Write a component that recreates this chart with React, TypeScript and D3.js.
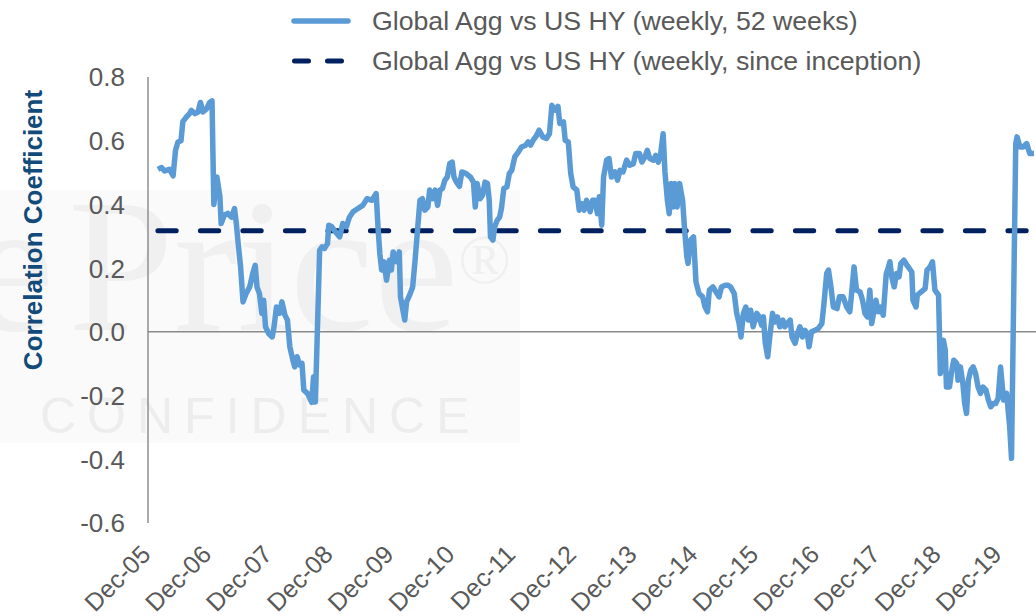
import React, { useEffect, useRef } from 'react';
import * as d3 from 'd3';

const weeks = [
  2006.08, 2006.14, 2006.19, 2006.27, 2006.33, 2006.37, 2006.41, 2006.46, 2006.49, 2006.55,
  2006.6, 2006.63, 2006.69, 2006.74, 2006.78, 2006.82, 2006.88, 2006.93, 2006.97, 2007.0,
  2007.05, 2007.1, 2007.12, 2007.17, 2007.23, 2007.29, 2007.34, 2007.37, 2007.4, 2007.44,
  2007.48, 2007.53, 2007.59, 2007.64, 2007.68, 2007.71, 2007.75, 2007.79, 2007.82, 2007.85,
  2007.9, 2007.96, 2007.99, 2008.03, 2008.08, 2008.12, 2008.17, 2008.21, 2008.25, 2008.3,
  2008.33, 2008.37, 2008.41, 2008.45, 2008.48, 2008.54, 2008.58, 2008.61, 2008.64, 2008.67,
  2008.74, 2008.78, 2008.82, 2008.87, 2008.89, 2008.94, 2009.0, 2009.07, 2009.12, 2009.18,
  2009.23, 2009.29, 2009.37, 2009.45, 2009.52, 2009.6, 2009.67, 2009.7, 2009.73, 2009.76,
  2009.8, 2009.84, 2009.89, 2009.92, 2009.95, 2010.01, 2010.05, 2010.07, 2010.11, 2010.14,
  2010.17, 2010.23, 2010.27, 2010.31, 2010.35, 2010.39, 2010.43, 2010.47, 2010.52, 2010.55,
  2010.6, 2010.64, 2010.68, 2010.72, 2010.76, 2010.8, 2010.84, 2010.88, 2010.92, 2010.95,
  2010.99, 2011.04, 2011.08, 2011.15, 2011.22, 2011.27, 2011.3, 2011.33, 2011.38, 2011.42,
  2011.46, 2011.5, 2011.53, 2011.55, 2011.59, 2011.62, 2011.66, 2011.7, 2011.73, 2011.77,
  2011.82, 2011.86, 2011.9, 2011.95, 2012.01, 2012.06, 2012.13, 2012.17, 2012.21, 2012.25,
  2012.31, 2012.35, 2012.41, 2012.47, 2012.52, 2012.56, 2012.61, 2012.66, 2012.69, 2012.75,
  2012.78, 2012.83, 2012.87, 2012.91, 2012.97, 2013.01, 2013.05, 2013.09, 2013.13, 2013.19,
  2013.23, 2013.27, 2013.31, 2013.34, 2013.38, 2013.41, 2013.46, 2013.5, 2013.54, 2013.6,
  2013.64, 2013.68, 2013.73, 2013.79, 2013.84, 2013.9, 2013.94, 2014.0, 2014.04, 2014.09,
  2014.13, 2014.17, 2014.23, 2014.27, 2014.31, 2014.35, 2014.39, 2014.42, 2014.46, 2014.49,
  2014.52, 2014.56, 2014.58, 2014.62, 2014.66, 2014.71, 2014.74, 2014.78, 2014.8, 2014.84,
  2014.89, 2014.93, 2014.98, 2015.04, 2015.08, 2015.12, 2015.15, 2015.21, 2015.26, 2015.31,
  2015.35, 2015.41, 2015.46, 2015.5, 2015.56, 2015.6, 2015.64, 2015.67, 2015.71, 2015.75,
  2015.79, 2015.83, 2015.87, 2015.93, 2015.97, 2016.01, 2016.04, 2016.07, 2016.11, 2016.15,
  2016.19, 2016.23, 2016.27, 2016.31, 2016.36, 2016.39, 2016.43, 2016.48, 2016.51, 2016.56,
  2016.6, 2016.64, 2016.68, 2016.72, 2016.76, 2016.79, 2016.83, 2016.89, 2016.94, 2017.0,
  2017.03, 2017.08, 2017.11, 2017.15, 2017.19, 2017.25, 2017.29, 2017.35, 2017.41, 2017.46,
  2017.49, 2017.53, 2017.57, 2017.63, 2017.67, 2017.71, 2017.75, 2017.79, 2017.82, 2017.86,
  2017.89, 2017.93, 2017.97, 2018.01, 2018.06, 2018.09, 2018.12, 2018.15, 2018.19, 2018.23,
  2018.27, 2018.3, 2018.35, 2018.4, 2018.44, 2018.48, 2018.5, 2018.55, 2018.57, 2018.63,
  2018.7, 2018.73, 2018.78, 2018.82, 2018.86, 2018.92, 2018.95, 2019.0, 2019.03, 2019.05,
  2019.1, 2019.13, 2019.17, 2019.22, 2019.24, 2019.28, 2019.32, 2019.35, 2019.38, 2019.41,
  2019.45, 2019.49, 2019.53, 2019.57, 2019.61, 2019.65, 2019.7, 2019.74, 2019.78, 2019.82,
  2019.86, 2019.9, 2019.94, 2019.97, 2019.99, 2020.04, 2020.07, 2020.09, 2020.12, 2020.19,
  2020.21, 2020.26, 2020.31, 2020.37, 2020.42, 2020.49,
];

// Global Agg vs US HY, rolling 52-week correlation
const corr52w = [
  0.51, 0.516, 0.505, 0.51, 0.49, 0.57, 0.596, 0.6, 0.66, 0.675,
  0.685, 0.695, 0.685, 0.69, 0.72, 0.69, 0.7, 0.72, 0.725, 0.4,
  0.486, 0.424, 0.34, 0.366, 0.372, 0.36, 0.387, 0.34, 0.277, 0.204,
  0.094, 0.12, 0.141, 0.183, 0.209, 0.141, 0.12, 0.058, 0.099, 0.016,
  -0.005, -0.016, 0.016, 0.078, 0.058, 0.094, 0.052, 0.037, -0.047, -0.089,
  -0.11, -0.078, -0.104, -0.099, -0.183, -0.193, -0.209, -0.221, -0.141, -0.22,
  0.256, 0.267, 0.262, 0.277, 0.335, 0.33, 0.314, 0.298, 0.34, 0.33,
  0.36, 0.377, 0.387, 0.397, 0.418, 0.413, 0.434, 0.33, 0.246, 0.194,
  0.22, 0.162, 0.225, 0.194, 0.251, 0.22, 0.251, 0.11, 0.068, 0.037,
  0.094, 0.12, 0.141, 0.225, 0.319, 0.413, 0.418, 0.382, 0.392, 0.445,
  0.418, 0.445, 0.397, 0.445, 0.45, 0.476, 0.486, 0.528, 0.533, 0.486,
  0.47, 0.457, 0.502, 0.497, 0.486, 0.47, 0.392, 0.466, 0.418, 0.429,
  0.47, 0.466, 0.413, 0.298, 0.288, 0.33, 0.35, 0.36, 0.387, 0.45,
  0.455, 0.497, 0.507, 0.549, 0.565, 0.58, 0.586, 0.596, 0.586, 0.601,
  0.617, 0.633, 0.612, 0.607, 0.622, 0.711, 0.696, 0.708, 0.654, 0.659,
  0.601, 0.596, 0.497, 0.455, 0.445, 0.382, 0.403, 0.382, 0.413, 0.377,
  0.413, 0.413, 0.371, 0.424, 0.335, 0.486, 0.539, 0.544, 0.486, 0.502,
  0.476, 0.507, 0.502, 0.539, 0.523, 0.528, 0.56, 0.56, 0.533, 0.549,
  0.57, 0.544, 0.539, 0.554, 0.533, 0.56, 0.622, 0.502, 0.413, 0.371,
  0.466, 0.392, 0.466, 0.392, 0.466, 0.413, 0.33, 0.235, 0.215, 0.288,
  0.298, 0.157, 0.12, 0.11, 0.078, 0.063, 0.131, 0.141, 0.125, 0.11,
  0.141, 0.146, 0.146, 0.141, 0.12, 0.058, 0.026, -0.016, 0.058, 0.078,
  0.037, 0.068, 0.016, 0.058, 0.047, 0.021, 0.047, -0.036, -0.078, -0.005,
  0.058, 0.031, 0.047, 0.016, 0.037, 0.016, 0.026, 0.037, -0.016, -0.036,
  -0.005, 0.016, -0.016, 0.005, -0.005, -0.047, 0.0, 0.005, 0.01, 0.026,
  0.078, 0.183, 0.194, 0.141, 0.078, 0.073, 0.11, 0.11, 0.078, 0.063,
  0.12, 0.204, 0.131, 0.125, 0.099, 0.058, 0.047, 0.131, 0.026, 0.068,
  0.099, 0.063, 0.078, 0.052, 0.183, 0.199, 0.22, 0.173, 0.141, 0.183,
  0.173, 0.215, 0.225, 0.209, 0.199, 0.188, 0.099, 0.078, 0.115, 0.125,
  0.136, 0.194, 0.204, 0.22, 0.131, 0.115, -0.131, -0.026, -0.057, -0.173,
  -0.173, -0.131, -0.089, -0.099, -0.152, -0.11, -0.162, -0.225, -0.256, -0.152,
  -0.12, -0.11, -0.131, -0.173, -0.193, -0.173, -0.183, -0.214, -0.235, -0.225,
  -0.225, -0.209, -0.11, -0.173, -0.214, -0.193, -0.256, -0.298, -0.397, 0.591,
  0.612, 0.58, 0.58, 0.591, 0.56, 0.56,
];

// correlation over the whole history
const sinceInception = 0.317;

const yTicks = [-0.6, -0.4, -0.2, 0, 0.2, 0.4, 0.6, 0.8];
const xTickLabels = [
  'Dec-05', 'Dec-06', 'Dec-07', 'Dec-08', 'Dec-09', 'Dec-10', 'Dec-11', 'Dec-12',
  'Dec-13', 'Dec-14', 'Dec-15', 'Dec-16', 'Dec-17', 'Dec-18', 'Dec-19',
];
const legendLabels = [
  'Global Agg vs US HY (weekly, 52 weeks)',
  'Global Agg vs US HY (weekly, since inception)',
];

const LIGHT = '#5B9BD5';
const NAVY = '#002060';
const FONT = 'Liberation Sans, Arial, sans-serif';

const App = () => {
  const chartRef = useRef(null);

  useEffect(() => {
    document.body.style.margin = '0';
    const svg = d3.select(chartRef.current);
    svg.selectAll('*').remove();

    const x = d3.scaleLinear().domain([2005.917, 2020.49]).range([148, 1034]);
    const y = d3.scaleLinear().domain([-0.6, 0.8]).range([523, 77]);

    // faint logo watermark behind the plot
    const wm = svg.append('g');
    wm.append('rect').attr('x', 0).attr('y', 190).attr('width', 520).attr('height', 253).attr('fill', '#FAFAFA');
    wm.append('text').attr('x', -30).attr('y', 330).attr('font-family', 'Liberation Serif, serif')
      .attr('font-size', 190).attr('fill', '#F0F0F0').text('e');
    wm.append('text').attr('x', 68).attr('y', 330).attr('font-family', 'Liberation Serif, serif')
      .attr('font-size', 190).attr('fill', '#F0F0F0').text('Price');
    wm.append('text').attr('x', 458).attr('y', 283).attr('font-family', 'Liberation Serif, serif')
      .attr('font-size', 70).attr('fill', '#F0F0F0').text('®');
    wm.append('text').attr('x', 40).attr('y', 433).attr('font-family', FONT)
      .attr('font-size', 50).attr('letter-spacing', 11).attr('fill', '#EDEDED').text('CONFIDENCE');

    // axes
    svg.append('line').attr('x1', 148).attr('x2', 148).attr('y1', y(0.8)).attr('y2', y(-0.6))
      .attr('stroke', '#7F7F7F').attr('stroke-width', 1.3);
    svg.append('line').attr('x1', 148).attr('x2', 1036).attr('y1', y(0)).attr('y2', y(0))
      .attr('stroke', '#898989').attr('stroke-width', 1.5);

    svg.append('g').selectAll('text').data(yTicks).join('text')
      .attr('x', 125).attr('y', (d) => y(d)).attr('dy', '0.36em')
      .attr('text-anchor', 'end').attr('font-family', FONT).attr('font-size', 26).attr('fill', '#595959')
      .text((d) => d.toFixed(1));

    svg.append('g').selectAll('text').data(xTickLabels).join('text')
      .attr('transform', (d) => {
        const t = 2000 + +d.slice(4) + 11 / 12;
        return `translate(${x(t) + 4},556) rotate(-45)`;
      })
      .attr('text-anchor', 'end').attr('font-family', FONT).attr('font-size', 25).attr('fill', '#595959')
      .text((d) => d);

    svg.append('text').attr('transform', 'translate(41.5,230) rotate(-90)')
      .attr('text-anchor', 'middle').attr('font-family', FONT).attr('font-size', 26)
      .attr('font-weight', 'bold').attr('fill', '#124B7A').text('Correlation Coefficient');

    // series
    const pts = weeks.map((w, i) => [w, corr52w[i]]);
    const line = d3.line().x((d) => x(d[0])).y((d) => y(d[1]));

    svg.append('path').datum([[weeks[0], sinceInception], [weeks[weeks.length - 1], sinceInception]])
      .attr('d', line).attr('fill', 'none').attr('stroke', NAVY).attr('stroke-width', 5)
      .attr('stroke-linecap', 'round').attr('stroke-dasharray', '18.3 24.2');

    svg.append('path').datum(pts).attr('d', line).attr('fill', 'none')
      .attr('stroke', LIGHT).attr('stroke-width', 5.5).attr('stroke-linejoin', 'round');

    // legend
    const lg = svg.append('g');
    lg.append('line').attr('x1', 294).attr('x2', 348).attr('y1', 21).attr('y2', 21)
      .attr('stroke', LIGHT).attr('stroke-width', 5.5).attr('stroke-linecap', 'round');
    lg.append('line').attr('x1', 294.5).attr('x2', 346).attr('y1', 61).attr('y2', 61)
      .attr('stroke', NAVY).attr('stroke-width', 5).attr('stroke-linecap', 'round')
      .attr('stroke-dasharray', '14 19');
    lg.selectAll('text').data(legendLabels).join('text')
      .attr('x', 372).attr('y', (d, i) => 30 + i * 40)
      .attr('font-family', FONT).attr('font-size', 26.7).attr('fill', '#595959')
      .text((d) => d);
  }, []);

  return <svg ref={chartRef} width={1036} height={616} style={{ display: 'block' }}></svg>;
};

export default App;
